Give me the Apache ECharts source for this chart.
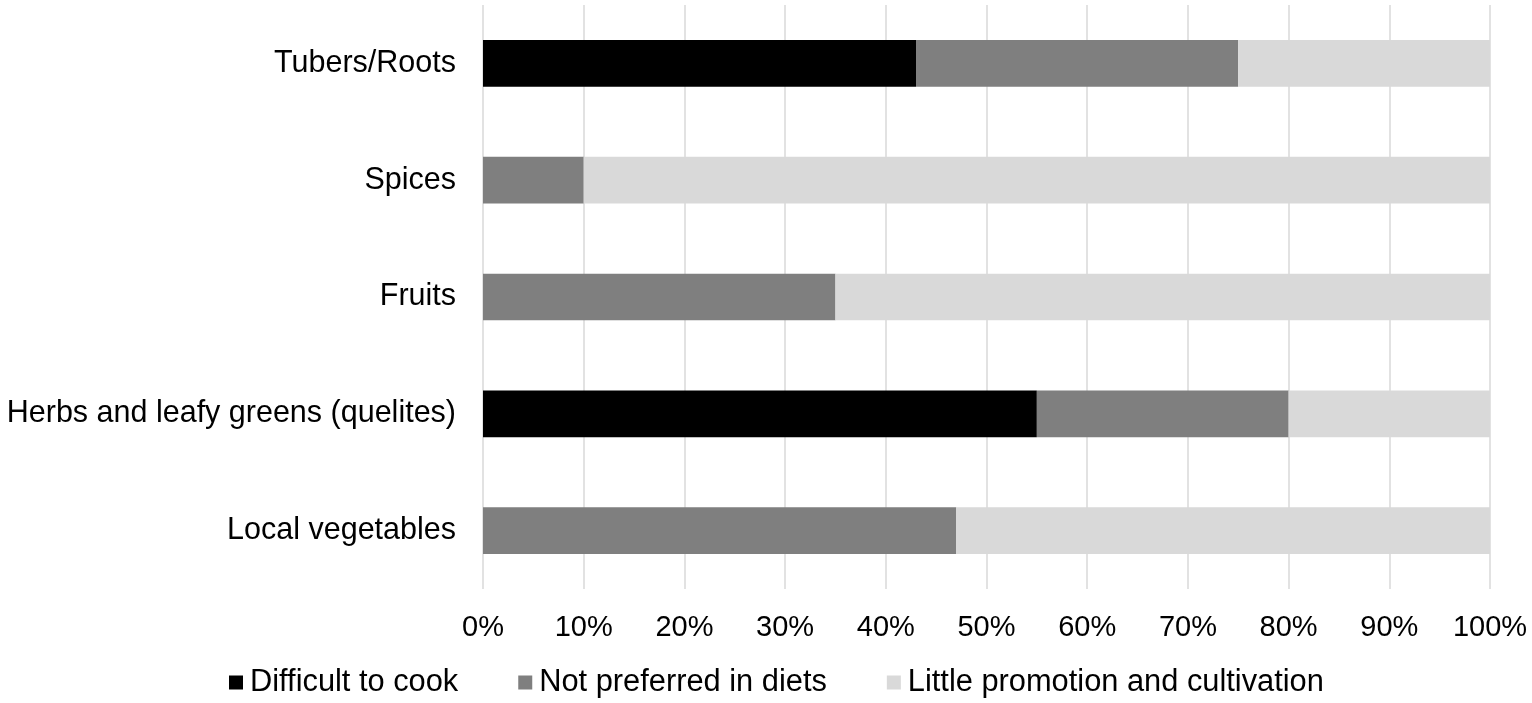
<!DOCTYPE html>
<html>
<head>
<meta charset="utf-8">
<title>Reasons for low consumption</title>
<script src="https://cdn.jsdelivr.net/npm/echarts@6/dist/echarts.min.js"></script>
<style>
  html, body { margin: 0; padding: 0; background: #fff; }
  #chart { width: 1532px; height: 703px; }
</style>
</head>
<body>
<div id="chart"></div>
<script>
// categories, top to bottom
const categories = ['Tubers/Roots', 'Spices', 'Fruits', 'Herbs and leafy greens (quelites)', 'Local vegetables'];

// percentages
const difficultToCook = [43, 0, 0, 55, 0];
const notPreferred = [32, 10, 35, 25, 47];
const littlePromotion = [25, 90, 65, 20, 53];

const seriesNames = ['Difficult to cook', 'Not preferred in diets', 'Little promotion and cultivation'];
const seriesColors = ['#000000', '#7f7f7f', '#d9d9d9'];

const font = "'Liberation Sans', Arial, sans-serif";

const chart = echarts.init(document.getElementById('chart'));

function makeSeries(name, data, color) {
  return {
    name: name,
    type: 'bar',
    stack: 'total',
    data: data,
    barWidth: '40%',
    itemStyle: { color: color },
    emphasis: { disabled: true }
  };
}

chart.setOption({
  animation: false,
  grid: { left: 483, right: 42, top: 5, bottom: 114, outerBoundsMode: 'none', containLabel: false },
  legend: {
    left: 229,
    top: 667,
    padding: 0,
    itemWidth: 14,
    itemHeight: 14,
    itemGap: 60,
    icon: 'rect',
    textStyle: { fontFamily: font, fontSize: 30.8, color: '#000', padding: [0, 0, 0, 2] },
    data: seriesNames
  },
  xAxis: {
    type: 'value',
    min: 0,
    max: 100,
    interval: 10,
    axisLine: { show: false },
    axisTick: { show: false },
    axisLabel: {
      formatter: '{value}%',
      fontFamily: font,
      fontSize: 29,
      color: '#000',
      margin: 24
    },
    splitLine: { lineStyle: { color: '#d9d9d9', width: 1.5 } }
  },
  yAxis: {
    type: 'category',
    inverse: true,
    data: categories,
    axisLine: { show: false },
    axisTick: { show: false },
    axisLabel: {
      fontFamily: font,
      fontSize: 30.5,
      color: '#000',
      margin: 27
    }
  },
  series: [
    makeSeries(seriesNames[0], difficultToCook, seriesColors[0]),
    makeSeries(seriesNames[1], notPreferred, seriesColors[1]),
    makeSeries(seriesNames[2], littlePromotion, seriesColors[2])
  ]
});
</script>
</body>
</html>
